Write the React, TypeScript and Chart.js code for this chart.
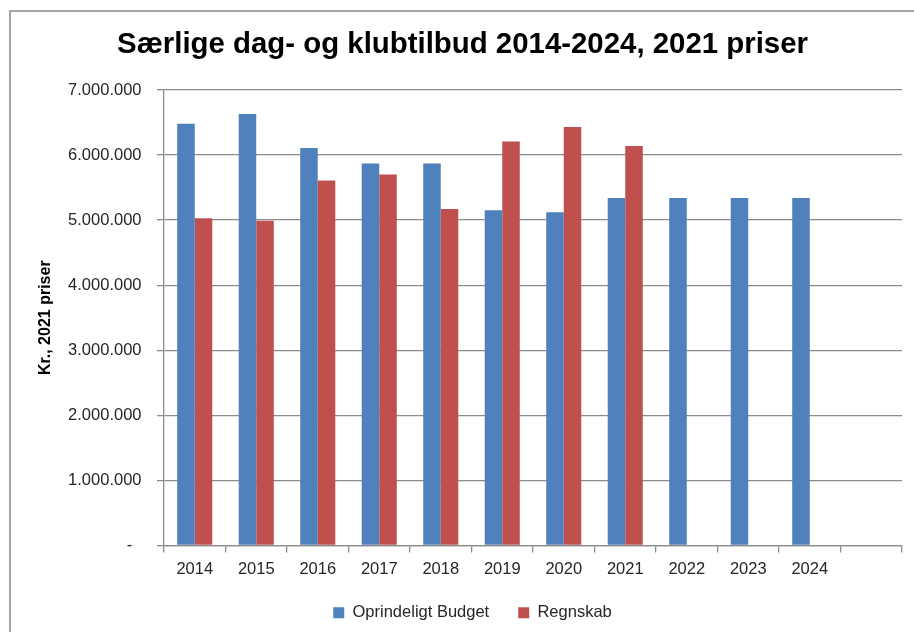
import React, { useEffect, useRef } from "react";
import { Chart, registerables } from "chart.js";

Chart.register(...registerables);

const categories = ["2014", "2015", "2016", "2017", "2018", "2019", "2020", "2021", "2022", "2023", "2024", ""];
const budgetValues = [6480000, 6630000, 6110000, 5870000, 5870000, 5150000, 5120000, 5340000, 5340000, 5340000, 5340000, null];
const regnskabValues = [5030000, 4990000, 5610000, 5700000, 5170000, 6210000, 6430000, 6140000, null, null, null, null];
const seriesNames = ["Oprindeligt Budget", "Regnskab"];
const titleText = "Særlige dag- og klubtilbud 2014-2024, 2021 priser";
const yTitle = "Kr., 2021 priser";

const FONT = "'Liberation Sans', Arial, sans-serif";

function formatDa(v: number): string {
  if (v === 0) return "-  ";
  return String(Math.round(v)).replace(/\B(?=(\d{3})+(?!\d))/g, ".");
}

const shiftLegend = {
  id: "shiftLegend",
  afterLayout(chart: any) {
    const lg = chart.legend;
    if (lg) {
      lg.left += 10;
      lg.right += 10;
    }
  },
};

export default function App() {
  const ref = useRef<HTMLCanvasElement | null>(null);

  useEffect(() => {
    document.body.style.margin = "0";
    const canvas = ref.current;
    if (!canvas) return;
    const chart = new Chart(canvas, {
      type: "bar",
      data: {
        labels: categories,
        datasets: [
          {
            label: seriesNames[0],
            data: budgetValues,
            backgroundColor: "#4F81BD",
            borderWidth: 0,
            categoryPercentage: 0.57,
            barPercentage: 1.0,
          },
          {
            label: seriesNames[1],
            data: regnskabValues,
            backgroundColor: "#C0504D",
            borderWidth: 0,
            categoryPercentage: 0.57,
            barPercentage: 1.0,
          },
        ],
      },
      plugins: [shiftLegend],
      options: {
        animation: false,
        responsive: false,
        devicePixelRatio: 1,
        layout: { padding: { left: 23, right: 12, top: 0, bottom: 1 } },
        plugins: {
          title: {
            display: true,
            text: titleText,
            color: "#000",
            font: { family: FONT, size: 29.4, weight: "bold", lineHeight: 1.2 },
            padding: { top: 27.4, bottom: 27.3 },
          },
          legend: {
            display: true,
            position: "bottom",
            labels: {
              color: "#262626",
              font: { family: FONT, size: 16.5 },
              boxWidth: 11,
              boxHeight: 11,
              padding: 29,
            },
          },
          tooltip: { enabled: false },
        },
        scales: {
          x: {
            grid: {
              offset: true,
              drawOnChartArea: false,
              drawTicks: true,
              tickLength: 7,
              color: "#8c8c8c",
              lineWidth: 1.3,
            },
            border: { display: true, color: "#8c8c8c", width: 1.3 },
            ticks: {
              color: "#262626",
              font: { family: FONT, size: 16.5 },
              padding: 7,
              autoSkip: false,
              maxRotation: 0,
              minRotation: 0,
            },
            afterFit: (scale: any) => {
              scale.height = 30;
            },
          },
          y: {
            min: 0,
            max: 7000000,
            grid: {
              color: "#8c8c8c",
              lineWidth: 1.3,
              drawTicks: true,
              tickLength: 7,
            },
            border: { display: true, color: "#8c8c8c", width: 1.3 },
            ticks: {
              stepSize: 1000000,
              color: "#262626",
              font: { family: FONT, size: 16.5 },
              padding: 15.5,
              callback: (v: any) => formatDa(Number(v)),
            },
            title: {
              display: true,
              text: yTitle,
              color: "#000",
              font: { family: FONT, size: 16, weight: "bold", lineHeight: 1.2 },
              padding: { top: 13, bottom: 0 },
            },
            afterFit: (scale: any) => {
              scale.width = 141;
            },
          },
        },
      },
    } as any);
    return () => chart.destroy();
  }, []);

  return (
    <div style={{ position: "relative", width: 914, height: 632, background: "#fff", overflow: "hidden" }}>
      <canvas ref={ref} width={914} height={632} style={{ position: "absolute", left: 0, top: 0 }} />
      <div
        style={{
          position: "absolute",
          left: 9,
          top: 10,
          width: 920,
          height: 640,
          borderLeft: "2px solid #a6a6a6",
          borderTop: "2px solid #a6a6a6",
          pointerEvents: "none",
        }}
      />
    </div>
  );
}
